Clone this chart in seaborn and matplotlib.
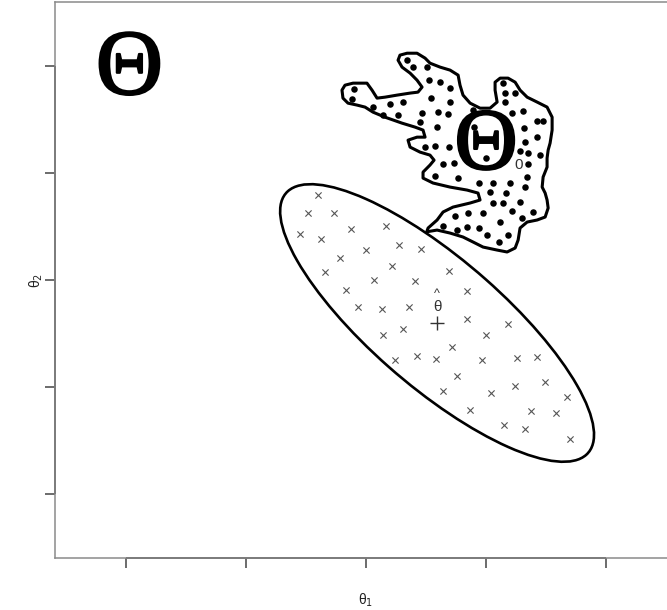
import numpy as np
import matplotlib
matplotlib.use('Agg')
import matplotlib.pyplot as plt
import matplotlib.patheffects as pe
from matplotlib.patches import Ellipse, Polygon
import seaborn as sns

# sample draws (x marks) inside the confidence ellipse
draw_x = [1.603, 1.519, 1.736, 1.875, 2.167, 1.450, 1.623, 2.000, 2.278, 2.458,
          1.783, 2.214, 2.692, 1.661, 2.069, 2.411, 1.831, 2.844, 1.936, 2.136,
          2.358, 2.844, 3.183, 2.311, 2.144, 2.998, 2.714, 2.239, 2.423, 2.581,
          2.967, 3.256, 3.425, 2.761, 2.644, 3.039, 3.244, 3.489, 3.678, 2.864,
          3.373, 3.586, 3.150, 3.328, 3.698]
draw_y = [2.794, 2.623, 2.623, 2.477, 2.508, 2.430, 2.380, 2.280, 2.327, 2.290,
          2.208, 2.134, 2.087, 2.072, 2.003, 1.991, 1.907, 1.897, 1.745, 1.726,
          1.750, 1.633, 1.586, 1.545, 1.483, 1.483, 1.371, 1.252, 1.293, 1.262,
          1.250, 1.268, 1.280, 1.100, 0.960, 0.941, 1.007, 1.047, 0.907, 0.785,
          0.779, 0.757, 0.645, 0.605, 0.517]

# estimate and confidence ellipse
theta_hat = (2.592, 1.598)
ell_width = 3.50
ell_height = 1.15
ell_angle = -44.75

# null region Theta_0 outline
null_x = [2.506, 2.517, 2.592, 2.642, 2.725, 2.867, 2.950, 2.933, 2.842, 2.700,
          2.558, 2.475, 2.475, 2.533, 2.567, 2.533, 2.450, 2.367, 2.350, 2.425,
          2.492, 2.475, 2.408, 2.300, 2.158, 2.058, 1.992, 1.925, 1.850, 1.808,
          1.800, 1.825, 1.892, 2.008, 2.050, 2.092, 2.158, 2.258, 2.367, 2.433,
          2.467, 2.425, 2.367, 2.300, 2.267, 2.283, 2.342, 2.425, 2.492, 2.533,
          2.617, 2.700, 2.767, 2.783, 2.808, 2.867, 2.950, 3.033, 3.092, 3.075,
          3.075, 3.117, 3.183, 3.242, 3.283, 3.342, 3.425, 3.508, 3.550, 3.550,
          3.533, 3.517, 3.508, 3.508, 3.475, 3.467, 3.492, 3.508, 3.517, 3.492,
          3.425, 3.342, 3.283, 3.267, 3.242, 3.175, 3.092, 2.975, 2.892, 2.808,
          2.700, 2.592]
null_y = [2.451, 2.486, 2.561, 2.636, 2.682, 2.720, 2.748, 2.813, 2.841, 2.869,
          2.907, 2.953, 3.009, 3.075, 3.121, 3.168, 3.196, 3.243, 3.308, 3.336,
          3.336, 3.402, 3.430, 3.467, 3.523, 3.570, 3.617, 3.636, 3.654, 3.701,
          3.776, 3.822, 3.841, 3.841, 3.776, 3.701, 3.710, 3.729, 3.748, 3.757,
          3.804, 3.869, 3.935, 3.991, 4.056, 4.103, 4.121, 4.121, 4.075, 4.028,
          3.991, 3.963, 3.916, 3.822, 3.729, 3.654, 3.607, 3.607, 3.664, 3.776,
          3.850, 3.888, 3.888, 3.850, 3.776, 3.710, 3.664, 3.617, 3.523, 3.402,
          3.280, 3.215, 3.140, 3.056, 2.963, 2.869, 2.813, 2.748, 2.673, 2.589,
          2.561, 2.542, 2.486, 2.374, 2.299, 2.262, 2.280, 2.308, 2.355, 2.402,
          2.439, 2.467]

# dots filling Theta_0
dot_x = [2.342, 2.392, 2.508, 2.525, 2.617, 2.700, 1.900, 1.883, 2.058, 2.200,
         2.308, 2.142, 2.267, 2.542, 2.467, 2.600, 2.450, 2.592, 2.700, 2.683,
         2.892, 2.900, 3.142, 3.158, 3.242, 3.158, 3.217, 3.308, 3.425, 3.475,
         3.317, 3.425, 2.492, 2.575, 2.692, 3.000, 3.325, 3.283, 3.350, 3.450,
         3.350, 2.642, 2.733, 2.575, 2.767, 3.342, 2.942, 3.058, 3.200, 3.033,
         3.167, 3.325, 3.283, 3.058, 3.142, 3.392, 3.217, 2.975, 2.850, 2.742,
         3.300, 3.117, 2.642, 2.758, 2.842, 2.942, 3.008, 3.183, 3.108]
dot_y = [4.056, 3.991, 3.991, 3.869, 3.850, 3.794, 3.785, 3.692, 3.617, 3.645,
         3.664, 3.542, 3.542, 3.701, 3.561, 3.570, 3.477, 3.430, 3.664, 3.551,
         3.589, 3.430, 3.841, 3.748, 3.748, 3.664, 3.561, 3.579, 3.486, 3.486,
         3.421, 3.336, 3.243, 3.252, 3.243, 3.140, 3.290, 3.206, 3.187, 3.168,
         3.084, 3.084, 3.093, 2.972, 2.953, 2.963, 2.907, 2.907, 2.907, 2.822,
         2.813, 2.869, 2.729, 2.720, 2.720, 2.636, 2.645, 2.626, 2.626, 2.598,
         2.579, 2.542, 2.505, 2.467, 2.495, 2.486, 2.421, 2.421, 2.355]

x_ticks = [0, 1, 2, 3, 4]
y_ticks = [0, 1, 2, 3, 4]

sns.set_style('white')
plt.rcParams['font.family'] = ['Liberation Sans', 'DejaVu Sans']

fig = plt.figure(figsize=(6.67, 6.10), dpi=100)
ax = fig.add_axes([55 / 667, 52 / 610, 622 / 667, 556 / 610])

ax.add_patch(Ellipse(theta_hat, ell_width, ell_height, angle=ell_angle,
                     facecolor='none', edgecolor='black', lw=1.9, zorder=2))
sns.scatterplot(x=draw_x, y=draw_y, marker='x', color='#555555', s=20,
                linewidth=0.8, ax=ax, zorder=3)

ax.add_patch(Polygon(np.column_stack([null_x, null_y]), closed=True,
                     facecolor='white', edgecolor='black', lw=2.2,
                     joinstyle='round', zorder=4))
sns.scatterplot(x=dot_x, y=dot_y, color='black', s=22, linewidth=0,
                ax=ax, zorder=5)

# point estimate
ax.scatter([theta_hat[0]], [theta_hat[1]], marker='+', s=110, color='#333333',
           linewidth=1.0, zorder=6)
ax.text(theta_hat[0], theta_hat[1] + 0.15, 'θ', ha='center', va='center',
        fontsize=11, color='#333333', zorder=6)
ax.text(theta_hat[0], theta_hat[1] + 0.27, '^', ha='center', va='center',
        fontsize=9, color='#333333', zorder=6)

# region labels: regular serif with a stroke, like a bold Times theta
thick = [pe.withStroke(linewidth=1.6, foreground='black')]
ax.text(0.03, 3.95, 'Θ', family='Liberation Serif', fontsize=67,
        color='black', ha='center', va='center', zorder=6, path_effects=thick)
ax.text(3.0, 3.24, 'Θ', family='Liberation Serif', fontsize=63,
        color='black', ha='center', va='center', zorder=6, path_effects=thick)
ax.text(3.27, 3.08, '0', fontsize=11, color='#333333', ha='center',
        va='center', zorder=6)

ax.set_xlim(-0.59, 4.59)
ax.set_ylim(-0.6, 4.6)
ax.set_xticks(x_ticks)
ax.set_yticks(y_ticks)
ax.set_xticklabels([])
ax.set_yticklabels([])
ax.tick_params(direction='out', length=7, width=1.1, color='#444444',
               bottom=True, left=True)
for side in ['left', 'bottom', 'top', 'right']:
    ax.spines[side].set_color('#8a8a8a')
    ax.spines[side].set_linewidth(1.1)
# darker axis lines between the outer ticks
ax.hlines(-0.6, x_ticks[0], x_ticks[-1], color='#444444', lw=1.3, clip_on=False)
ax.vlines(-0.59, y_ticks[0], y_ticks[-1], color='#444444', lw=1.3, clip_on=False)

ax.set_xlabel('θ$_1$', fontsize=10, color='#222222', labelpad=14)
ax.set_ylabel('θ$_2$', fontsize=10, color='#222222', labelpad=-3)

fig.savefig('out.png', dpi=100)
